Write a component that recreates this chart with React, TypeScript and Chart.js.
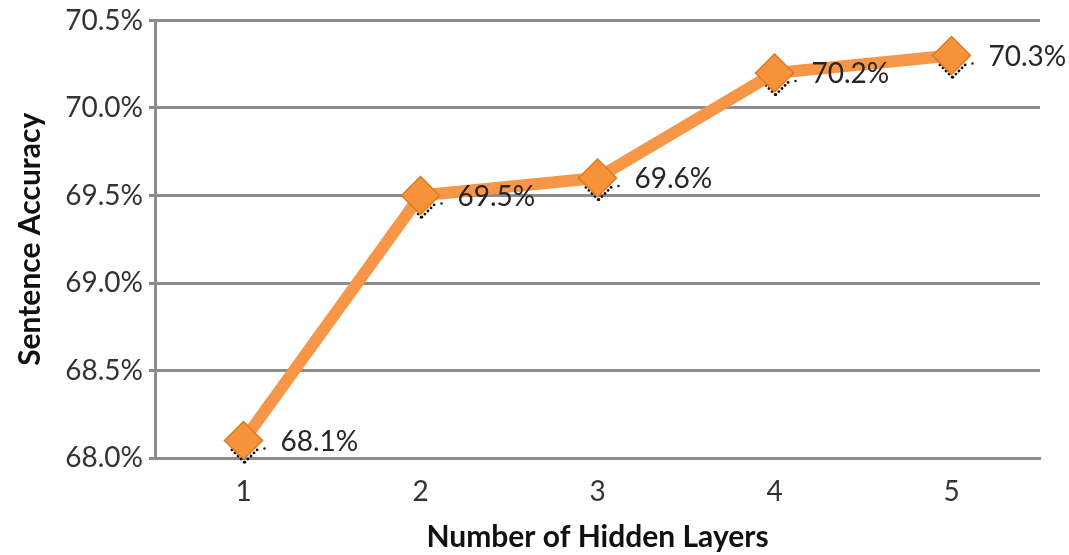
import React, { useEffect, useRef } from "react";
import { Chart, registerables } from "chart.js";

Chart.register(...registerables);

const categories = ["1", "2", "3", "4", "5"];
const accuracy = [68.1, 69.5, 69.6, 70.2, 70.3];
const dataLabels = ["68.1%", "69.5%", "69.6%", "70.2%", "70.3%"];
const yMin = 68.0;
const yMax = 70.5;
const yStep = 0.5;

const FONT = "Lato, 'Open Sans', sans-serif";

const labelPlugin = {
  id: "pointLabels",
  beforeDatasetsDraw(chart: any) {
    const ctx = chart.ctx;
    const meta = chart.getDatasetMeta(0);
    ctx.save();
    ctx.fillStyle = "#111";
    meta.data.forEach((pt: any) => {
      const r = 18;
      const cx = pt.x + 1;
      const cy = pt.y + 4;
      for (let t = 0.3; t <= 1.0001; t += 0.17) {
        ctx.beginPath();
        ctx.arc(cx - r + r * t, cy + r * t, 1.4, 0, Math.PI * 2);
        ctx.fill();
        ctx.beginPath();
        ctx.arc(cx + r - r * t, cy + r * t, 1.4, 0, Math.PI * 2);
        ctx.fill();
      }
    });
    ctx.restore();
  },
  afterDatasetsDraw(chart: any) {
    const ctx = chart.ctx;
    const meta = chart.getDatasetMeta(0);
    ctx.save();
    ctx.font = `28px ${FONT}`;
    ctx.fillStyle = "#262626";
    ctx.textAlign = "left";
    ctx.textBaseline = "middle";
    meta.data.forEach((pt: any, i: number) => {
      ctx.beginPath();
      ctx.arc(pt.x + 21, pt.y + 8, 1.3, 0, Math.PI * 2);
      ctx.fill();
      ctx.fillText(dataLabels[i], pt.x + 37, pt.y + 1);
    });
    ctx.restore();
  },
};

export default function App() {
  const ref = useRef<HTMLCanvasElement | null>(null);
  useEffect(() => {
    if (!ref.current) return;
    const chart = new Chart(ref.current, {
      type: "line",
      data: {
        labels: categories,
        datasets: [
          {
            data: accuracy,
            borderColor: "#F79646",
            borderWidth: 12,
            tension: 0,
            pointStyle: "rectRot",
            pointRadius: 19,
            pointHoverRadius: 19,
            pointBackgroundColor: "#F5923A",
            pointBorderColor: "#D97A25",
            pointBorderWidth: 1.5,
          },
        ],
      },
      options: {
        animation: false,
        responsive: true,
        maintainAspectRatio: false,
        layout: { padding: { top: 0, right: 29, left: 0, bottom: 0 } },
        plugins: {
          legend: { display: false },
          tooltip: { enabled: false },
        },
        scales: {
          x: {
            offset: true,
            grid: { display: false, drawTicks: false },
            border: { color: "#8c8c8c", width: 3 },
            ticks: {
              color: "#333",
              font: { family: FONT, size: 28 },
              padding: 17,
            },
            title: {
              display: true,
              text: "Number of Hidden Layers",
              color: "#111",
              font: { family: FONT, size: 30, weight: "bold" },
              padding: { top: 12, bottom: 0 },
            },
            afterFit(scale: any) {
              scale.height = 97;
            },
          },
          y: {
            min: yMin,
            max: yMax,
            grid: { color: "#8c8c8c", lineWidth: 3, drawTicks: true, tickLength: 6 },
            border: { color: "#8c8c8c", width: 3 },
            ticks: {
              stepSize: yStep,
              color: "#333",
              font: { family: FONT, size: 28 },
              padding: 6,
              callback: (v: any) => Number(v).toFixed(1) + "%",
            },
            title: {
              display: true,
              text: "Sentence Accuracy",
              color: "#111",
              font: { family: FONT, size: 30, weight: "bold" },
              padding: { top: 12, bottom: 4 },
            },
            afterFit(scale: any) {
              scale.width = 155;
              scale.paddingTop = 15;
            },
          },
        },
      },
      plugins: [labelPlugin],
    });
    return () => chart.destroy();
  }, []);
  return (
    <div style={{ position: "fixed", left: 0, top: 0, width: 1069, height: 555, background: "#fff" }}>
      <canvas ref={ref} />
    </div>
  );
}
